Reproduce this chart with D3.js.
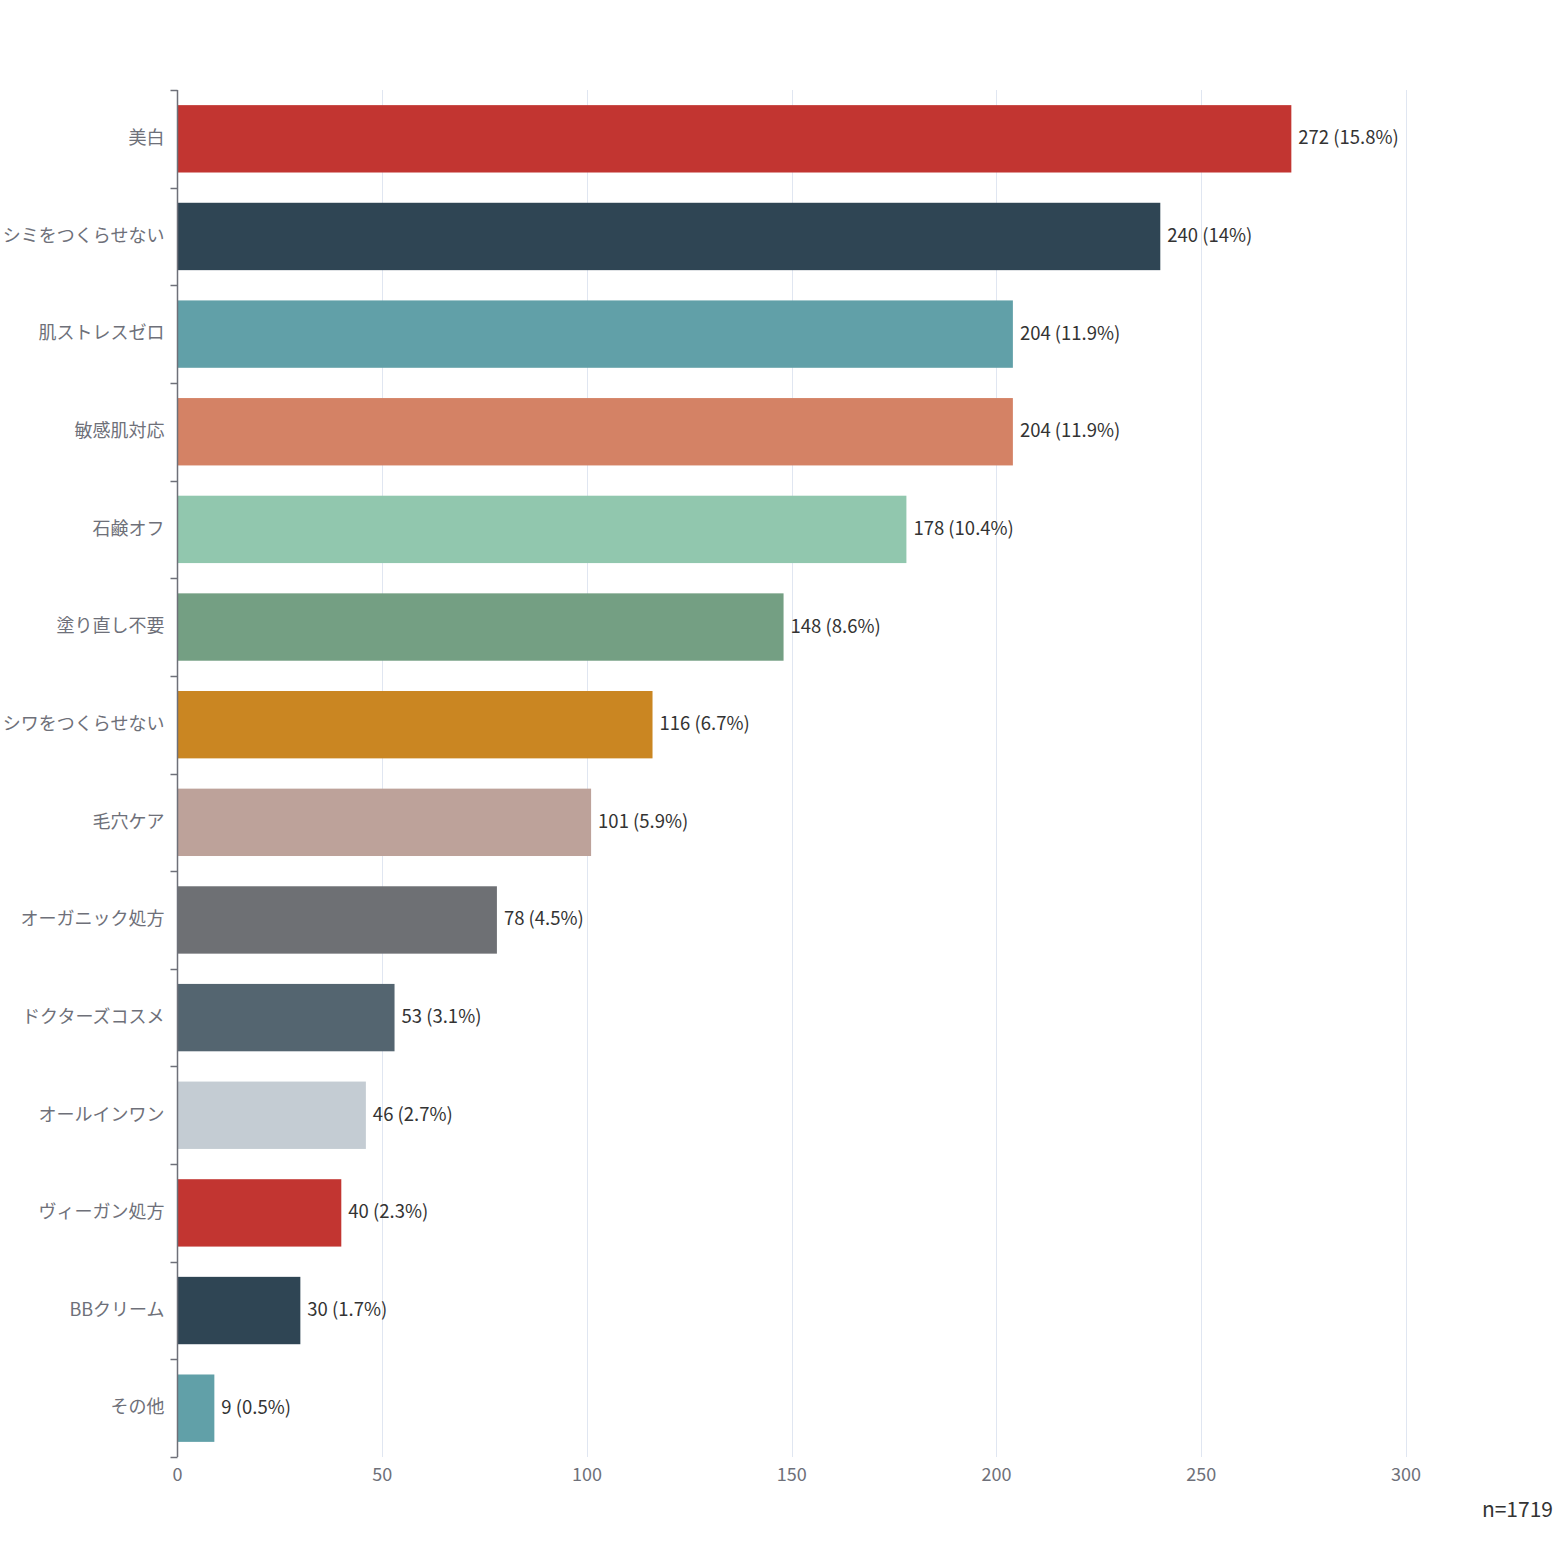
<!DOCTYPE html>
<html>
<head>
<meta charset="utf-8">
<script src="https://cdn.jsdelivr.net/npm/d3@7"></script>
<style>
  body { margin: 0; background: #fff; }
  text { font-family: "Noto Sans CJK JP", "Noto Sans", sans-serif; }
</style>
</head>
<body>
<svg id="chart" width="1561" height="1561"></svg>
<script>
// data
var categories = ["美白", "シミをつくらせない", "肌ストレスゼロ", "敏感肌対応", "石鹸オフ", "塗り直し不要",
  "シワをつくらせない", "毛穴ケア", "オーガニック処方", "ドクターズコスメ", "オールインワン",
  "ヴィーガン処方", "BBクリーム", "その他"];
var counts = [272, 240, 204, 204, 178, 148, 116, 101, 78, 53, 46, 40, 30, 9];
var percents = ["15.8", "14", "11.9", "11.9", "10.4", "8.6", "6.7", "5.9", "4.5", "3.1", "2.7", "2.3", "1.7", "0.5"];
var colors = ["#c23531", "#2f4554", "#61a0a8", "#d48265", "#91c7ae", "#749f83", "#ca8622",
  "#bda29a", "#6e7074", "#546570", "#c4ccd3", "#c23531", "#2f4554", "#61a0a8"];
var xTicks = [0, 50, 100, 150, 200, 250, 300];
var total = 1719;

var gridLeft = 177.5, gridRight = 1406, gridTop = 90, gridBottom = 1457;

var svg = d3.select("#chart");

var x = d3.scaleLinear().domain([0, 300]).range([gridLeft, gridRight]);
var y = d3.scaleBand().domain(categories).range([gridTop, gridBottom]).paddingInner(0.31).paddingOuter(0.155);
var yStep = d3.scaleBand().domain(categories).range([gridTop, gridBottom]);

// grid lines
svg.append("g").selectAll("line")
  .data(xTicks.slice(1))
  .enter().append("line")
  .attr("x1", d => Math.round(x(d)) + 0.5).attr("x2", d => Math.round(x(d)) + 0.5)
  .attr("y1", gridTop).attr("y2", gridBottom)
  .attr("stroke", "#E0E6F1").attr("stroke-width", 1);

// bars
svg.append("g").selectAll("rect")
  .data(categories)
  .enter().append("rect")
  .attr("x", x(0))
  .attr("y", d => y(d))
  .attr("width", (d, i) => x(counts[i]) - x(0))
  .attr("height", y.bandwidth())
  .attr("fill", (d, i) => colors[i]);

// value labels
svg.append("g").selectAll("text")
  .data(categories)
  .enter().append("text")
  .attr("x", (d, i) => x(counts[i]) + 7)
  .attr("y", d => y(d) + y.bandwidth() / 2 - 1)
  .attr("dy", "0.35em")
  .style("font-size", "18.5px")
  .style("fill", "#333")
  .text((d, i) => counts[i] + " (" + percents[i] + "%)");

// y axis
var yAxis = svg.append("g");
yAxis.append("line")
  .attr("x1", gridLeft).attr("x2", gridLeft)
  .attr("y1", gridTop).attr("y2", gridBottom)
  .attr("stroke", "#6E7079").attr("stroke-width", 1.5);
var boundaries = categories.map(d => yStep(d)).concat([gridBottom]);
yAxis.selectAll(".tick")
  .data(boundaries)
  .enter().append("line")
  .attr("x1", gridLeft - 7).attr("x2", gridLeft)
  .attr("y1", d => Math.round(d) + 0.5).attr("y2", d => Math.round(d) + 0.5)
  .attr("stroke", "#6E7079").attr("stroke-width", 1.5);
yAxis.selectAll("text")
  .data(categories)
  .enter().append("text")
  .attr("x", gridLeft - 13)
  .attr("y", d => yStep(d) + yStep.bandwidth() / 2 - 1)
  .attr("dy", "0.35em")
  .attr("text-anchor", "end")
  .style("font-size", "18px")
  .style("fill", "#6E7079")
  .text(d => d);

// x tick labels
svg.append("g").selectAll("text")
  .data(xTicks)
  .enter().append("text")
  .attr("x", d => x(d))
  .attr("y", gridBottom + 24)
  .attr("text-anchor", "middle")
  .style("font-size", "18px")
  .style("fill", "#6E7079")
  .text(d => d);

// sample size
svg.append("text")
  .attr("x", 1553)
  .attr("y", 1517)
  .attr("text-anchor", "end")
  .style("font-size", "21px")
  .style("fill", "#333")
  .text("n=" + total);
</script>
</body>
</html>
